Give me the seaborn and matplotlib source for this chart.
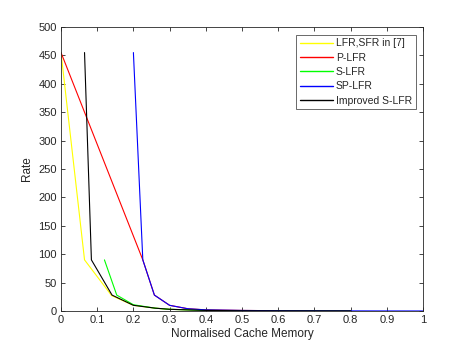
import matplotlib
matplotlib.use("Agg")
import matplotlib.pyplot as plt
from matplotlib.lines import Line2D
import seaborn as sns
import pandas as pd

sns.set_style("white")
plt.rcParams['font.family'] = ['Liberation Sans', 'DejaVu Sans']

# Data
x_lfr = [0.0, 0.065, 0.14, 0.2, 0.26, 0.3, 0.4, 0.5, 0.6, 0.7, 0.8]
y_lfr = [455, 90, 27, 10, 5, 3, 1, 0.5, 0.3, 0.2, 0.1]

x_plfr = [0.0, 0.226, 0.258, 0.3, 0.35, 0.4, 0.5, 0.6, 0.7, 0.8]
y_plfr = [455, 90, 28, 10, 4, 2, 1, 0.5, 0.3, 0.2]

x_slfr = [0.12, 0.154, 0.2, 0.26, 0.3, 0.4, 0.5, 0.6, 0.7, 0.8]
y_slfr = [90, 28, 11, 5, 3, 1, 0.5, 0.3, 0.2, 0.1]

x_splfr = [0.2, 0.226, 0.258, 0.3, 0.35, 0.4, 0.5, 0.6, 0.7, 0.8, 0.9, 1.0]
y_splfr = [455, 90, 28, 10, 4, 2, 1, 0.5, 0.3, 0.2, 0.1, 0.05]

x_imp = [0.065, 0.084, 0.141, 0.2, 0.26, 0.3, 0.4, 0.5, 0.6, 0.7, 0.8]
y_imp = [455, 90, 28, 10, 5, 3, 1, 0.5, 0.3, 0.2, 0.1]

names = ["LFR,SFR in [7]", "P-LFR", "S-LFR", "SP-LFR", "Improved S-LFR"]
colors = ["#ffff00", "#ff0000", "#00ff00", "#0000ff", "#000000"]
series = [(x_lfr, y_lfr), (x_plfr, y_plfr), (x_slfr, y_slfr),
          (x_splfr, y_splfr), (x_imp, y_imp)]

frames = []
for n, (xs, ys) in zip(names, series):
    frames.append(pd.DataFrame({"x": xs, "y": ys, "s": n}))
df = pd.concat(frames, ignore_index=True)

fig = plt.figure(figsize=(4.67, 3.5), dpi=100)
ax = fig.add_axes([61/467, 1 - 311/350, (423-61)/467, (311-27)/350])

sns.lineplot(data=df, x="x", y="y", hue="s", hue_order=names,
             palette=dict(zip(names, colors)), sort=False, estimator=None,
             linewidth=0.8, ax=ax, legend=False)

ax.set_xlim(0, 1)
ax.set_ylim(0, 500)
ax.set_xticks([i/10 for i in range(11)])
ax.set_xticklabels(["0", "0.1", "0.2", "0.3", "0.4", "0.5", "0.6", "0.7", "0.8", "0.9", "1"])
ax.set_yticks(range(0, 501, 50))
ax.tick_params(direction="in", length=3, width=0.6, colors="#262626",
               labelsize=8, top=True, right=True, bottom=True, left=True,
               labelcolor="#262626", pad=3)
for sp in ax.spines.values():
    sp.set_color("#262626")
    sp.set_linewidth(0.6)
ax.set_xlabel("Normalised Cache Memory", fontsize=8.5, color="#262626", labelpad=2)
ax.set_ylabel("Rate", fontsize=8.5, color="#262626", labelpad=4)

handles = [Line2D([], [], color=c, linewidth=1.0) for c in colors]
leg = ax.legend(handles, names, loc="upper right", bbox_to_anchor=(0.98, 0.973),
                fontsize=7.5, frameon=True, fancybox=False, edgecolor="#262626",
                handlelength=3.2, handletextpad=0.3, borderpad=0.35,
                labelspacing=0.42, borderaxespad=0)
leg.get_frame().set_linewidth(0.6)

fig.savefig("out.png", dpi=100)
